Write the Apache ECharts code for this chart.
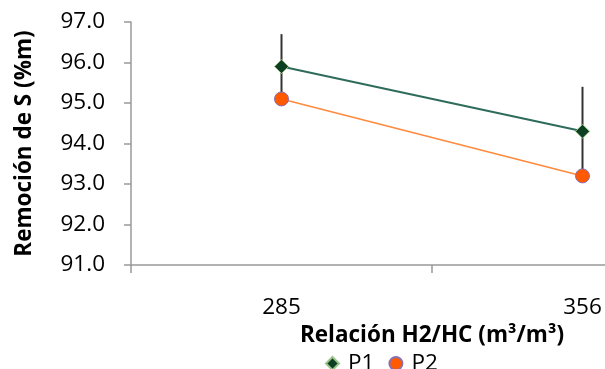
<!DOCTYPE html>
<html><head><meta charset="utf-8">
<script src="https://cdn.jsdelivr.net/npm/echarts@6/dist/echarts.min.js"></script>
<style>html,body{margin:0;padding:0;background:#fff;overflow:hidden;width:605px;height:369px}#c{width:740px;height:369px}</style>
</head><body><div id="c"></div>
<script>
const categories = ['285', '356'];
const p1 = [95.9, 94.3];
const p2 = [95.1, 93.2];
const p1Err = [0.8, 1.1];
const yTicks = [91, 92, 93, 94, 95, 96, 97];

const FONT = '"Open Sans", "Noto Sans", sans-serif';
const FS = 22.5;
const chart = echarts.init(document.getElementById('c'), null, {renderer: 'canvas'});
const errData = categories.map((c, i) => [i, p1[i] - p1Err[i], p1[i] + p1Err[i]]);
chart.setOption({
  animation: false,
  backgroundColor: '#fff',
  grid: {left: 131, top: 22, height: 243, width: 602, containLabel: false},
  legend: {
    left: 320, top: 347, itemGap: 14, itemWidth: 13, itemHeight: 13,
    textStyle: {fontFamily: FONT, fontSize: FS, color: '#000', padding: [0, 0, 0, 4]},
    data: [{name: 'P1', icon: 'diamond'}, {name: 'P2', icon: 'circle'}]
  },
  xAxis: {
    type: 'category', data: categories, boundaryGap: true,
    name: 'Relación H2/HC (m³/m³)', nameLocation: 'middle', nameGap: 57,
    nameTextStyle: {fontFamily: FONT, fontSize: FS, fontWeight: 'bold', color: '#000'},
    axisLine: {lineStyle: {color: '#999', width: 1.5}},
    axisTick: {show: true, length: 8, lineStyle: {color: '#999', width: 1.5}},
    axisLabel: {fontFamily: FONT, fontSize: FS, color: '#000', margin: 31}
  },
  yAxis: {
    type: 'value', min: 91, max: 97, interval: 1,
    name: 'Remoción de S (%m)', nameLocation: 'middle', nameGap: 95, nameRotate: 90,
    nameTextStyle: {fontFamily: FONT, fontSize: FS, fontWeight: 'bold', color: '#000'},
    axisLine: {show: true, lineStyle: {color: '#999', width: 1.5}},
    axisTick: {show: true, length: 7, lineStyle: {color: '#999', width: 1.5}},
    splitLine: {show: false},
    axisLabel: {fontFamily: FONT, fontSize: FS, color: '#000', margin: 26,
      formatter: v => yTicks.includes(v) ? v.toFixed(1) : ''}
  },
  series: [
    {
      name: 'errP1', type: 'custom', data: errData, z: 1, silent: true,
      renderItem: function (params, api) {
        const lo = api.coord([api.value(0), api.value(1)]);
        const hi = api.coord([api.value(0), api.value(2)]);
        return {type: 'line', shape: {x1: lo[0], y1: lo[1], x2: hi[0], y2: hi[1]},
          style: {stroke: '#333', lineWidth: 2}};
      }
    },
    {
      name: 'P1', type: 'line', data: p1, z: 3,
      symbol: 'diamond', symbolSize: 14,
      lineStyle: {color: '#2f6b5b', width: 2},
      itemStyle: {color: '#0d3f22', borderColor: '#9bc48a', borderWidth: 1}
    },
    {
      name: 'P2', type: 'line', data: p2, z: 2,
      symbol: 'circle', symbolSize: 14,
      lineStyle: {color: '#ff8a3d', width: 1.5},
      itemStyle: {color: '#ff5a00', borderColor: '#8a6fb0', borderWidth: 1}
    }
  ]
});
</script></body></html>
